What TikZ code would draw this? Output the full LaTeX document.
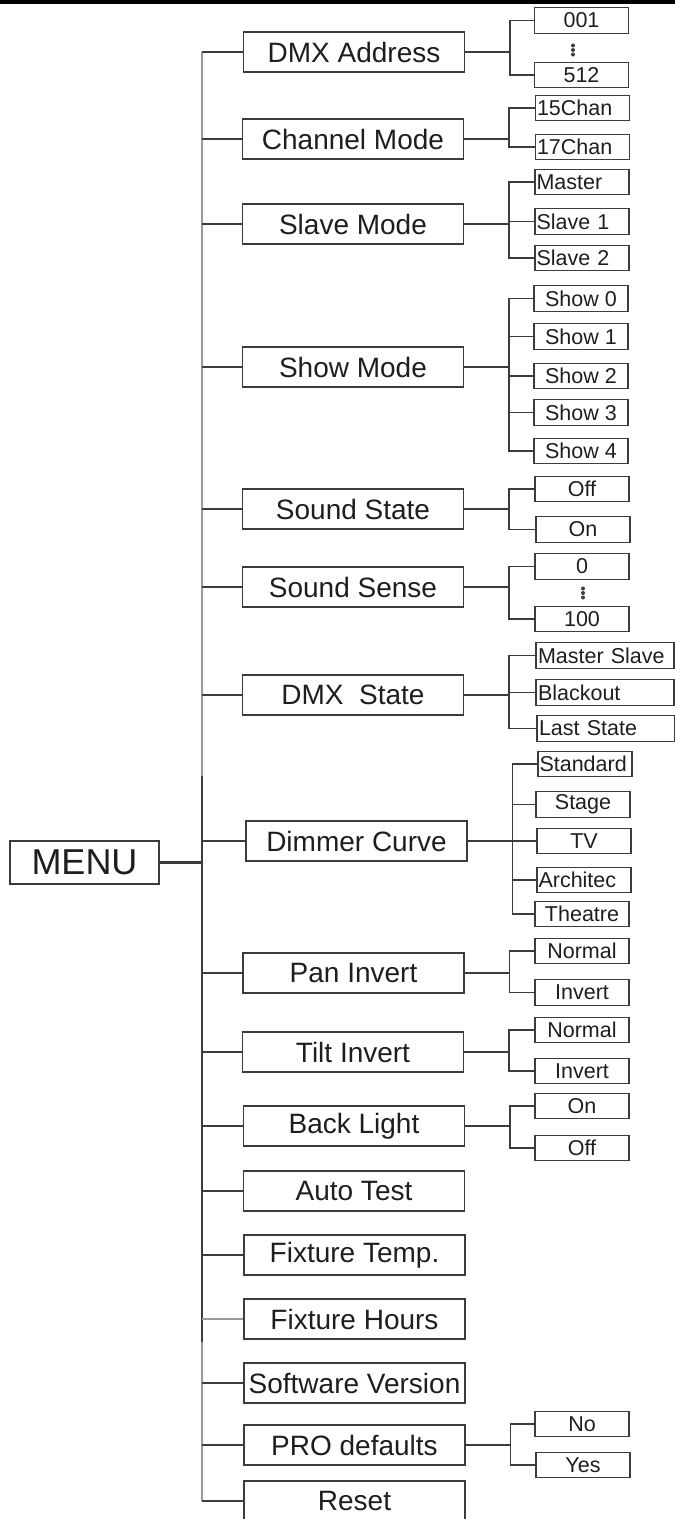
\documentclass[tikz,border=0pt]{standalone}
\usepackage{fontspec}
\setsansfont{Liberation Sans}
\definecolor{lncol}{HTML}{3C3C3C}
\definecolor{grcol}{HTML}{9A9A9A}
\definecolor{txtcol}{HTML}{1E1E1E}
\begin{document}
\begin{tikzpicture}[x=1pt, y=-1pt, font=\sffamily,
         ln/.style={draw=lncol, line width=1.5},
         mbox/.style={ln, minimum width=221, minimum height=40, inner sep=0, text=txtcol, font=\sffamily\fontsize{28}{30}\selectfont},
         sbox/.style={ln, line width=1.3, minimum width=94, minimum height=25.5, inner sep=0, text=txtcol, font=\sffamily\fontsize{21.5}{23}\selectfont},
         lbox/.style={sbox, text width=91, align=left, inner xsep=1.5},
         wbox/.style={lbox, text width=134, minimum width=138}]
         \useasboundingbox (0,0) rectangle (675,1519);
         \fill[black] (0,0) rectangle (675,4);

             \node (menu) at (84.5,862.5) [ln, minimum width=149, minimum height=43, text=txtcol, font=\sffamily\fontsize{36}{40}\selectfont]{MENU};

             \node (addr) at (354,52) [mbox]{DMX Address};
             \node (chan) at (353,139) [mbox]{Channel Mode};
             \node (slave) at (353,224) [mbox]{Slave Mode};
             \node (show) at (353,367) [mbox]{Show Mode};
             \node (sstate) at (353,509) [mbox]{Sound State};
             \node (ssense) at (353,587) [mbox]{Sound Sense};
             \node (dmxst) at (353,695) [mbox]{DMX~~State};
             \node (dimmer) at (356.5,841) [mbox]{Dimmer Curve};
             \node (pan) at (353.5,973) [mbox]{Pan Invert};
             \node (tilt) at (353,1052) [mbox]{Tilt Invert};
             \node (back) at (354,1126) [mbox]{Back Light};
             \node (auto) at (354,1191) [mbox]{Auto Test};
             \node (ftemp) at (354.5,1255) [mbox]{Fixture Temp.};
             \node (fhours) at (354.5,1319) [mbox]{Fixture Hours};
             \node (soft) at (354.5,1383) [mbox]{Software Version};
             \node (pro) at (354.5,1445) [mbox]{PRO defaults};
             \node (reset) at (354.5,1501) [mbox]{Reset};

             \node (a001) at (581.5,20.5) [sbox]{001};
             \node (a512) at (581.5,75) [sbox]{512};
             \node (c15) at (582.5,108) [lbox]{15Chan};
             \node (c17) at (582.5,147) [lbox]{17Chan};
             \node (smaster) at (582,182) [lbox]{Master};
             \node (sl1) at (582,221.5) [lbox]{Slave 1};
             \node (sl2) at (582,258) [lbox]{Slave 2};
             \node (sh0) at (581,298.5) [sbox]{Show 0};
             \node (sh1) at (581,336.5) [sbox]{Show 1};
             \node (sh2) at (581,376) [sbox]{Show 2};
             \node (sh3) at (581,412.5) [sbox]{Show 3};
             \node (sh4) at (581,451) [sbox]{Show 4};
             \node (soff) at (582,489) [sbox]{Off};
             \node (son) at (583,529.5) [sbox]{On};
             \node (sn0) at (582,566.5) [sbox]{0};
             \node (sn100) at (582,619) [sbox]{100};
             \node (ms) at (605,655.5) [wbox]{Master Slave};
             \node (blk) at (605,692.5) [wbox]{Blackout};
             \node (last) at (606,728.5) [wbox]{Last State};
             \node (std) at (585,764) [lbox]{Standard};
             \node (stage) at (583,804.5) [sbox]{Stage};
             \node (tv) at (584,841) [sbox]{TV};
             \node (arch) at (584,880) [lbox]{Architec};
             \node (theatre) at (582,914) [sbox]{Theatre};
             \node (pnorm) at (582,951) [sbox]{Normal};
             \node (pinv) at (582,992.5) [sbox]{Invert};
             \node (tnorm) at (582,1030) [sbox]{Normal};
             \node (tinv) at (582,1071) [sbox]{Invert};
             \node (bon) at (582,1106) [sbox]{On};
             \node (boff) at (582,1148) [sbox]{Off};
             \node (pno) at (582,1424) [sbox]{No};
             \node (pyes) at (583,1465) [sbox]{Yes};

             \foreach \y in {45.5,50,54.5} \fill[lncol] (573,\y) circle (2);
             \foreach \y in {588.5,593,597.5} \fill[lncol] (583,\y) circle (2);

             \coordinate (tk) at (202,776);
             \coordinate (tk2) at (202,1342);
             \draw[ln, draw=grcol] (addr.west -| tk) -- (tk);
             \draw[ln] (tk) -- (tk2);
             \draw[ln, draw=grcol] (tk2) -- (reset.west -| tk);
             \draw[draw=lncol, line width=3] (menu.east) -- (menu.east -| tk);

             \foreach \m in {addr,chan,slave,show,sstate,ssense,dmxst,dimmer,pan,tilt,back,auto,ftemp,soft,pro,reset}
                 \draw[ln] (\m.west) -- (\m.west -| tk);
             \draw[ln, draw=grcol] (fhours.west) -- (fhours.west -| tk);

             \foreach \m/\s in {addr/a001,addr/a512,chan/c15,chan/c17,slave/smaster,slave/sl1,slave/sl2,
                 show/sh0,show/sh1,show/sh2,show/sh3,show/sh4,sstate/soff,sstate/son,ssense/sn0,ssense/sn100,
                 dmxst/ms,dmxst/blk,dmxst/last,dimmer/std,dimmer/stage,dimmer/tv,dimmer/arch,dimmer/theatre,
                 pan/pnorm,pan/pinv,tilt/tnorm,tilt/tinv,back/bon,back/boff,pro/pno,pro/pyes}
                 \draw[ln] (\m.east) -- ++(44.5,0) |- (\s.west);
         \end{tikzpicture}
\end{document}
